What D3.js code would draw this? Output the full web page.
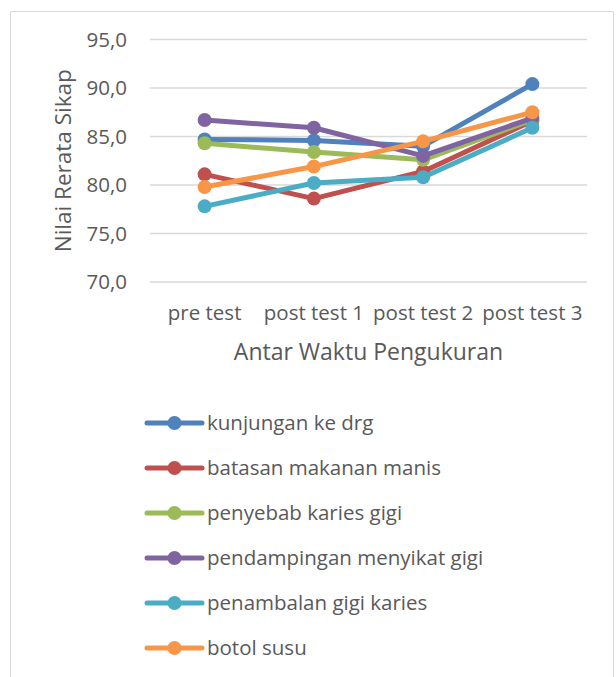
<!DOCTYPE html>
<html>
<head>
<meta charset="utf-8">
<script src="https://cdn.jsdelivr.net/npm/d3@7"></script>
<style>
  body { margin: 0; background: #fff; }
  svg text { font-family: "Open Sans", sans-serif; fill: #595959; }
</style>
</head>
<body>
<svg id="chart" width="616" height="677"></svg>
<script>
const categories = ["pre test", "post test 1", "post test 2", "post test 3"];
const seriesNames = ["kunjungan ke drg", "batasan makanan manis", "penyebab karies gigi",
  "pendampingan menyikat gigi", "penambalan gigi karies", "botol susu"];
const kunjungan = [84.7, 84.6, 84.0, 90.4];
const batasan = [81.1, 78.6, 81.4, 86.6];
const penyebab = [84.3, 83.4, 82.6, 86.7];
const pendampingan = [86.7, 85.9, 83.0, 86.9];
const penambalan = [77.8, 80.2, 80.8, 85.9];
const botol = [79.8, 81.9, 84.5, 87.5];
const yTicks = [70, 75, 80, 85, 90, 95];
const colors = ["#4F81BD", "#C0504D", "#9BBB59", "#8064A2", "#4BACC6", "#F79646"];

const series = [kunjungan, batasan, penyebab, pendampingan, penambalan, botol]
  .map((vals, i) => ({name: seriesNames[i], color: colors[i], values: vals}));

const svg = d3.select("#chart");

// outer frame (bottom is cut off)
svg.append("path")
  .attr("d", "M10.5,677 V11.5 H613.5 V677")
  .attr("fill", "none")
  .attr("stroke", "#d9d9d9")
  .attr("stroke-width", 1);

const plot = {left: 150, right: 587, top: 39.5, bottom: 282};

const x = d3.scalePoint().domain(categories).range([plot.left, plot.right]).padding(0.5);
const y = d3.scaleLinear().domain([70, 95]).range([plot.bottom, plot.top]);

// gridlines
svg.append("g")
  .selectAll("line")
  .data(yTicks)
  .join("line")
  .attr("x1", plot.left).attr("x2", plot.right)
  .attr("y1", d => y(d)).attr("y2", d => y(d))
  .attr("stroke", "#d9d9d9")
  .attr("stroke-width", 1.5);

// y tick labels
svg.append("g")
  .selectAll("text")
  .data(yTicks)
  .join("text")
  .attr("x", 127)
  .attr("y", d => y(d))
  .attr("dy", "0.35em")
  .attr("text-anchor", "end")
  .style("font-size", "20.5px")
  .text(d => d3.format(".1f")(d).replace(".", ","));

// x tick labels
svg.append("g")
  .selectAll("text")
  .data(categories)
  .join("text")
  .attr("x", d => x(d))
  .attr("y", 320)
  .attr("text-anchor", "middle")
  .style("font-size", "20.5px")
  .text(d => d);

// axis titles
svg.append("text")
  .attr("x", (plot.left + plot.right) / 2)
  .attr("y", 360)
  .attr("text-anchor", "middle")
  .style("font-size", "23px")
  .text("Antar Waktu Pengukuran");

svg.append("text")
  .attr("transform", `translate(71,${(plot.top + plot.bottom) / 2}) rotate(-90)`)
  .attr("text-anchor", "middle")
  .style("font-size", "22.5px")
  .text("Nilai Rerata Sikap");

// lines and markers
const line = d3.line()
  .x((d, i) => x(categories[i]))
  .y(d => y(d));

const sg = svg.append("g")
  .selectAll("g")
  .data(series)
  .join("g");

sg.append("path")
  .attr("d", d => line(d.values))
  .attr("fill", "none")
  .attr("stroke", d => d.color)
  .attr("stroke-width", 5)
  .attr("stroke-linejoin", "round")
  .attr("stroke-linecap", "round");

sg.selectAll("circle")
  .data(d => d.values.map(v => ({v, color: d.color})))
  .join("circle")
  .attr("cx", (d, i) => x(categories[i]))
  .attr("cy", d => y(d.v))
  .attr("r", 7)
  .attr("fill", d => d.color);

// legend
const legend = svg.append("g")
  .selectAll("g")
  .data(series)
  .join("g")
  .attr("transform", (d, i) => `translate(0,${423 + i * 45})`);

legend.append("line")
  .attr("x1", 147).attr("x2", 202)
  .attr("stroke", d => d.color)
  .attr("stroke-width", 5)
  .attr("stroke-linecap", "round");

legend.append("circle")
  .attr("cx", 174.5)
  .attr("r", 7)
  .attr("fill", d => d.color);

legend.append("text")
  .attr("x", 207)
  .attr("dy", "0.35em")
  .style("font-size", "20.5px")
  .text(d => d.name);
</script>
</body>
</html>
